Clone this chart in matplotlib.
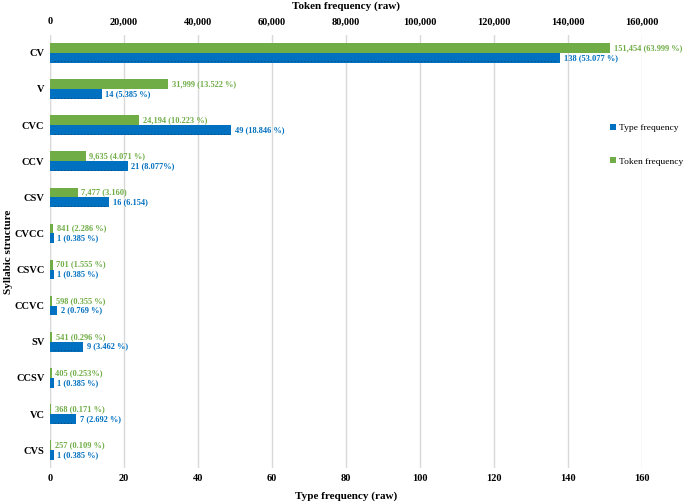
import numpy as np
import matplotlib
matplotlib.use("Agg")
import matplotlib.pyplot as plt

plt.rcParams['font.family'] = ['Liberation Serif', 'DejaVu Serif']

# data
structures = ['CV', 'V', 'CVC', 'CCV', 'CSV', 'CVCC', 'CSVC', 'CCVC', 'SV', 'CCSV', 'VC', 'CVS']
type_freq = [138, 14, 49, 21, 16, 1, 1, 2, 9, 1, 7, 1]
type_labels = ['138 (53.077 %)', '14 (5.385 %)', '49 (18.846 %)', '21 (8.077%)', '16 (6.154)',
               '1 (0.385 %)', '1 (0.385 %)', '2 (0.769 %)', '9 (3.462 %)', '1 (0.385 %)',
               '7 (2.692 %)', '1 (0.385 %)']
token_freq = [151454, 31999, 24194, 9635, 7477, 841, 701, 598, 541, 405, 368, 257]
token_labels = ['151,454 (63.999 %)', '31,999 (13.522 %)', '24,194 (10.223 %)', '9,635 (4.071 %)',
                '7,477 (3.160)', '841 (2.286 %)', '701 (1.555 %)', '598 (0.355 %)', '541 (0.296 %)',
                '405 (0.253%)', '368 (0.171 %)', '257 (0.109 %)']

blue = '#0070C0'
green = '#70AD47'

fig = plt.figure(figsize=(6.85, 5.04), dpi=100)
ax = fig.add_axes([0.073, 0.071, 0.864, 0.86])
ax2 = ax.twiny()

y = np.arange(len(structures))
h = 0.27

b1 = ax.barh(y + h / 2, type_freq, height=h, color=blue, label='Type frequency', zorder=3)
b2 = ax2.barh(y - h / 2, token_freq, height=h, color=green, label='Token frequency', zorder=3)

# dotted line inside the longer blue bars
for yi, v in zip(y, type_freq):
    if v >= 2:
        ax.hlines(yi + h * 0.88, 1, v - 1, colors='#1f2a44', linestyles=(0, (1, 3)),
                  linewidth=0.6, zorder=4)

ax.set_xlim(0, 160)
ax2.set_xlim(0, 160000)
ax.set_ylim(len(structures) - 0.5, -0.5)

ax.set_yticks(y)
ax.set_yticklabels(structures, fontweight='bold', fontsize=7.5)
ax.set_xticks(np.arange(0, 161, 20))
ax.set_xticklabels([str(v) for v in range(0, 161, 20)], fontweight='bold', fontsize=7.5)
ax2.set_xticks(np.arange(0, 160001, 20000))
ax2.set_xticklabels([f'{v:,}' for v in range(0, 160001, 20000)], fontweight='bold', fontsize=7.5)

ax.grid(axis='x', color='#d9d9d9', linewidth=1, zorder=0)
for a in (ax, ax2):
    for s in a.spines.values():
        s.set_visible(False)
    a.tick_params(length=0)
ax.tick_params(axis='x', pad=4)
ax.tick_params(axis='y', pad=4)
ax2.tick_params(axis='x', pad=6)
ax.axvline(0, color='#d9d9d9', linewidth=1, zorder=1)

for yi, v, lab in zip(y, type_freq, type_labels):
    ax.text(v + 1.0, yi + h / 2, lab, color=blue, fontsize=6, fontweight='bold',
            va='center', ha='left', zorder=4)
for yi, v, lab in zip(y, token_freq, token_labels):
    ax2.text(v + 1000, yi - h / 2, lab, color=green, fontsize=6, fontweight='bold',
             va='center', ha='left', zorder=4)

ax.set_xlabel('Type frequency (raw)', fontweight='bold', fontsize=8, labelpad=6)
ax2.set_xlabel('Token frequency (raw)', fontweight='bold', fontsize=8, labelpad=6)
ax.set_ylabel('Syllabic structure', fontweight='bold', fontsize=8)
ax.yaxis.set_label_coords(-0.063, 0.5)

fig.legend(handles=[b1, b2], loc='center left', bbox_to_anchor=(0.891, 0.713),
           frameon=False, fontsize=6.8, handlelength=0.6, handleheight=0.6,
           handletextpad=0.3, labelspacing=2.7, borderaxespad=0, borderpad=0)

fig.savefig('out.png', dpi=100)
